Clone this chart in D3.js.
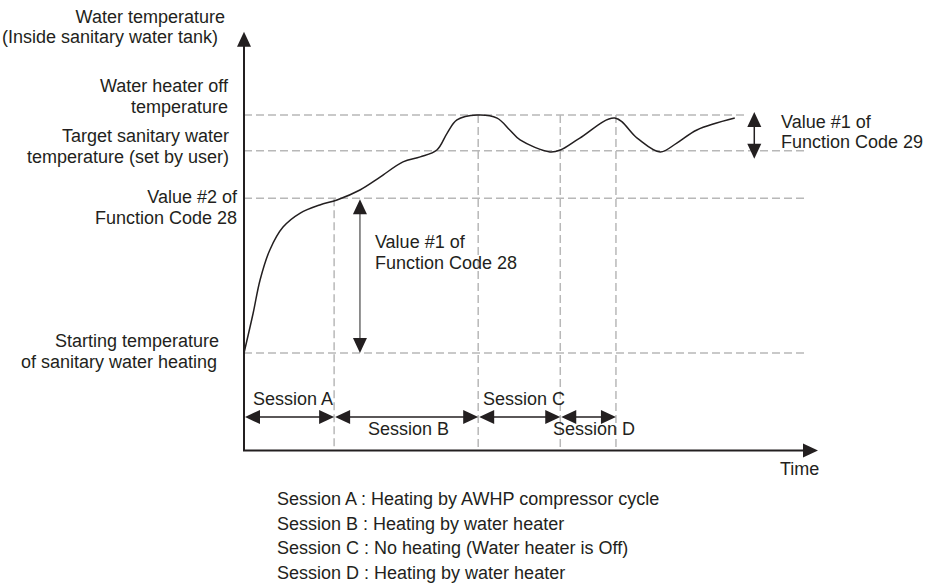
<!DOCTYPE html>
<html>
<head>
<meta charset="utf-8">
<script src="https://cdn.jsdelivr.net/npm/d3@7"></script>
<style>
  body { margin: 0; background: #fff; }
  svg text { font-family: "Liberation Sans", Arial, sans-serif; font-size: 18px; fill: #231f20; }
</style>
</head>
<body>
<div id="chart"></div>
<script>
// curve (time 0..100, temperature relative: start = 0, heater off = 100)
var timeValues = [0, 1.6, 2.8, 4.5, 6.8, 9.8, 13.2, 16.2, 20.2, 23.7, 27.7, 30.7, 33.6, 35.4, 37.1, 40.6, 44.1, 46.3, 48.1, 53.3, 55.1, 58.5, 64.6, 68.5, 72.5, 75.4, 78.9, 85.5];
var tempValues = [0, 16.8, 30.7, 43.3, 52.9, 58.8, 62.2, 64.3, 68.5, 73.9, 80.3, 82.4, 85.3, 92.4, 97.9, 100, 98.7, 93.7, 89.5, 84.5, 85.3, 90.3, 98.7, 90.3, 84.5, 88.2, 93.7, 98.7];

// reference temperature levels
var levelNames = [
  ["Water heater off", "temperature"],
  ["Target sanitary water", "temperature (set by user)"],
  ["Value #2 of", "Function Code 28"],
  ["Starting temperature", "of sanitary water heating"]
];
var levelValues = [100, 85, 65, 0];
var levelEnds = [87.3, 98.1, 98.1, 98.1];

// sessions
var sessionNames = ["Session A", "Session B", "Session C", "Session D"];
var sessionBounds = [0, 15.7, 40.8, 55.1, 64.8];
var boundaryTops = [65, 100, 100, 100];

var legendLines = [
  "Session A : Heating by AWHP compressor cycle",
  "Session B : Heating by water heater",
  "Session C : No heating (Water heater is Off)",
  "Session D : Heating by water heater"
];

var width = 928, height = 584;
var svg = d3.select("#chart").append("svg")
  .attr("width", width).attr("height", height);

var x = d3.scaleLinear().domain([0, 100]).range([244, 818]);
var y = d3.scaleLinear().domain([0, 100]).range([353, 115]);
var yMin = -41, yMax = 135;

var dark = "#231f20", grid = "#b8b8b8";

function head(px, py, dir, len, hw) {
  len = len || 15; hw = hw || 7;
  var p;
  if (dir == "up") p = [[px, py], [px - hw, py + len], [px + hw, py + len]];
  if (dir == "down") p = [[px, py], [px - hw, py - len], [px + hw, py - len]];
  if (dir == "left") p = [[px, py], [px + len, py - hw], [px + len, py + hw]];
  if (dir == "right") p = [[px, py], [px - len, py - hw], [px - len, py + hw]];
  svg.append("path").attr("d", "M" + p.join("L") + "Z").attr("fill", dark);
}

// dashed grid
svg.selectAll(".hline").data(levelValues).enter().append("line")
  .attr("x1", x(0)).attr("x2", function(d, i) { return x(levelEnds[i]); })
  .attr("y1", function(d) { return y(d); }).attr("y2", function(d) { return y(d); })
  .attr("stroke", grid).attr("stroke-width", 1.5).attr("stroke-dasharray", "8,4");

svg.selectAll(".vline").data(sessionBounds.slice(1)).enter().append("line")
  .attr("x1", function(d) { return x(d); }).attr("x2", function(d) { return x(d); })
  .attr("y1", function(d, i) { return y(boundaryTops[i]); }).attr("y2", y(yMin))
  .attr("stroke", grid).attr("stroke-width", 1.5).attr("stroke-dasharray", "8,4");

// axes
svg.append("line").attr("x1", x(0)).attr("x2", x(0))
  .attr("y1", y(yMin)).attr("y2", y(yMax) + 10)
  .attr("stroke", dark).attr("stroke-width", 2);
head(x(0), y(yMax), "up", 15, 7);
svg.append("line").attr("x1", x(0) - 1).attr("x2", x(100) - 10)
  .attr("y1", y(yMin)).attr("y2", y(yMin))
  .attr("stroke", dark).attr("stroke-width", 2);
head(x(100), y(yMin), "right", 15, 7);

// curve
var line = d3.line()
  .x(function(d, i) { return x(timeValues[i]); })
  .y(function(d) { return y(d); })
  .curve(d3.curveCatmullRom.alpha(0.5));
svg.append("path").datum(tempValues).attr("d", line)
  .attr("fill", "none").attr("stroke", dark).attr("stroke-width", 1.5);

// level labels
var lvlX = [228, 229, 237, 219];
var lvlY = [92, 142, 203, 347];
levelNames.forEach(function(lines, i) {
  lines.forEach(function(t, j) {
    svg.append("text").attr("x", lvlX[i] - (i == 3 && j == 1 ? 2 : 0)).attr("y", lvlY[i] + j * 20.5)
      .attr("text-anchor", "end").text(t);
  });
});

svg.append("text").attr("x", 225).attr("y", 23).attr("text-anchor", "end").text("Water temperature");
svg.append("text").attr("x", 218).attr("y", 43).attr("text-anchor", "end").text("(Inside sanitary water tank)");
svg.append("text").attr("x", 780).attr("y", 475).text("Time");

// Function Code 28 arrow
var fc28 = 20.2;
svg.append("line").attr("x1", x(fc28)).attr("x2", x(fc28))
  .attr("y1", y(65) + 10).attr("y2", y(0) - 10)
  .attr("stroke", "#6d6d6d").attr("stroke-width", 1.5);
head(x(fc28), y(65) + 1, "up", 15, 7);
head(x(fc28), y(0), "down", 15, 7);
svg.append("text").attr("x", x(fc28) + 15).attr("y", 248).text("Value #1 of");
svg.append("text").attr("x", x(fc28) + 15).attr("y", 269).text("Function Code 28");

// Function Code 29 arrow
var fc29 = 88.9;
svg.append("line").attr("x1", x(fc29)).attr("x2", x(fc29))
  .attr("y1", y(100) + 5).attr("y2", y(85) + 2)
  .attr("stroke", dark).attr("stroke-width", 1.5);
head(x(fc29), y(100) - 3, "up", 15, 7);
head(x(fc29), y(85) + 8, "down", 15, 7);
svg.append("text").attr("x", 781).attr("y", 128).text("Value #1 of");
svg.append("text").attr("x", 781).attr("y", 148).text("Function Code 29");

// session arrows
var sy = 417;
sessionNames.forEach(function(name, i) {
  var a = x(sessionBounds[i]), b = x(sessionBounds[i + 1]);
  svg.append("line").attr("x1", a + 5).attr("x2", b - 5).attr("y1", sy).attr("y2", sy)
    .attr("stroke", dark).attr("stroke-width", 1.5);
  head(a + 1, sy, "left", 15, 7);
  head(b, sy, "right", 15, 7);
  svg.append("text")
    .attr("x", [253, 368, 483, 553][i])
    .attr("y", i % 2 == 0 ? 405 : 435)
    .text(name);
});

// legend
svg.selectAll(".legend").data(legendLines).enter().append("text")
  .attr("x", 277).attr("y", function(d, i) { return 505 + i * 24.5; })
  .text(function(d) { return d; });
</script>
</body>
</html>
